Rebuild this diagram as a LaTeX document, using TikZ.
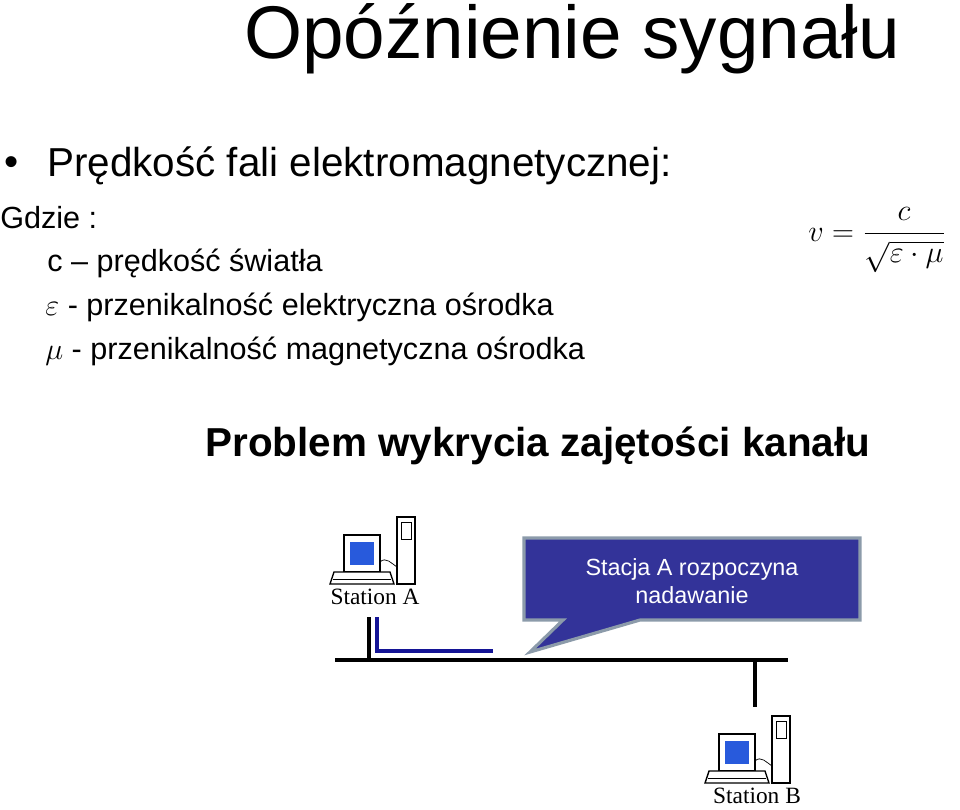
\documentclass[tikz,border=0pt]{standalone}
\usepackage{amsmath}
\usepackage{fontspec}
\setmainfont{Liberation Sans}
\newfontfamily\stfont{Liberation Serif}
\usetikzlibrary{positioning}
\definecolor{calloutblue}{RGB}{51,51,153}
\definecolor{calloutedge}{RGB}{140,155,170}
\definecolor{screenblue}{RGB}{40,90,220}
\definecolor{linkblue}{RGB}{20,20,150}

% computer icon: monitor, tower and keyboard (origin = bottom left of monitor)
\newcommand{\stationicon}[1]{%
  \begin{scope}[shift={#1}]
    \draw[thick,fill=white] (53,0) rectangle (71,-67);
    \draw (57,-45) rectangle (67,-62);
    \draw[thick,fill=white] (0,-12) rectangle (36,-49);
    \fill[screenblue] (6,-19) rectangle (30,-42);
    \draw (36,-22) .. controls (42,-28) and (48,-20) .. (53,-17);
    \draw[thick,fill=white] (-10,-12) -- (46,-12) -- (50,0) -- (-14,0) -- cycle;
    \draw (-11,-5) -- (47,-5);
  \end{scope}}

\begin{document}
\begin{tikzpicture}[
    x = 0.02cm, y = -0.02cm,
    txt/.style = {anchor = west, inner sep = 0pt, font = \fontsize{17.4}{20}\selectfont},
    big/.style = {anchor = west, inner sep = 0pt, font = \fontsize{23}{26}\selectfont},
    wire/.style = {line width = 2.2pt},
    stlabel/.style = {inner sep = 0pt, font = \stfont\fontsize{13.3}{15}\selectfont}
  ]
  \useasboundingbox (0,0) rectangle (960,809);

  % headings and text
  \node[inner sep=0pt, font=\fontsize{42.5}{46}\selectfont] (title) at (572,39) {Opóźnienie sygnału};
  \node[big] (bul) at (4,166) {\textbullet};
  \node[big] (speed) at (47,166) {Prędkość fali elektromagnetycznej:};
  \node[txt] (gdzie) at (0,218) {Gdzie :};
  \node[txt] (cdef) at (47,263) {c -- prędkość światła};
  \node[txt] (edef) at (45,307) {$\varepsilon$ - przenikalność elektryczna ośrodka};
  \node[txt] (mdef) at (45,351) {$\mu$ - przenikalność magnetyczna ośrodka};
  \node[inner sep=0pt, font=\fontsize{19}{21}\selectfont] (formula) at (877,240)
    {$v = \dfrac{c}{\sqrt{\varepsilon\cdot\mu}}$};
  \node[inner sep=0pt, font=\bfseries\fontsize{23}{26}\selectfont] (problem) at (538,446)
    {Problem wykrycia zajętości kanału};

  % stations
  \stationicon{(344,584)}
  \node[stlabel] (staA) at (375,597) {Station A};
  \stationicon{(719,783)}
  \node[stlabel] (staB) at (757,796) {Station B};

  % bus and stubs
  \coordinate (busL) at (335,660);
  \coordinate (busR) at (788,660);
  \coordinate (tapA) at (369,660);
  \coordinate (tapB) at (755,660);
  \draw[wire] (busL) -- (busR);
  \draw[wire] (tapA) -- ++(0,-43);
  \draw[wire] (tapB) -- ++(0,47);
  \coordinate (sigA) at (377,617);
  \coordinate (sigE) at (493,651);
  \draw[linkblue, line width=2pt] (sigA) |- (sigE);

  % callout
  \coordinate (tip) at (530,652);
  \draw[calloutedge, line width=1.8pt, fill=calloutblue, line join=miter]
    (524,538) -- (860,538) -- (860,620) -- (640,620) -- (tip) -- (563,620)
    -- (524,620) -- cycle;
  \node[white, align=center, inner sep=0pt, font=\fontsize{13.3}{16}\selectfont] (msg) at (692,581)
    {Stacja A rozpoczyna\\nadawanie};
\end{tikzpicture}
\end{document}
